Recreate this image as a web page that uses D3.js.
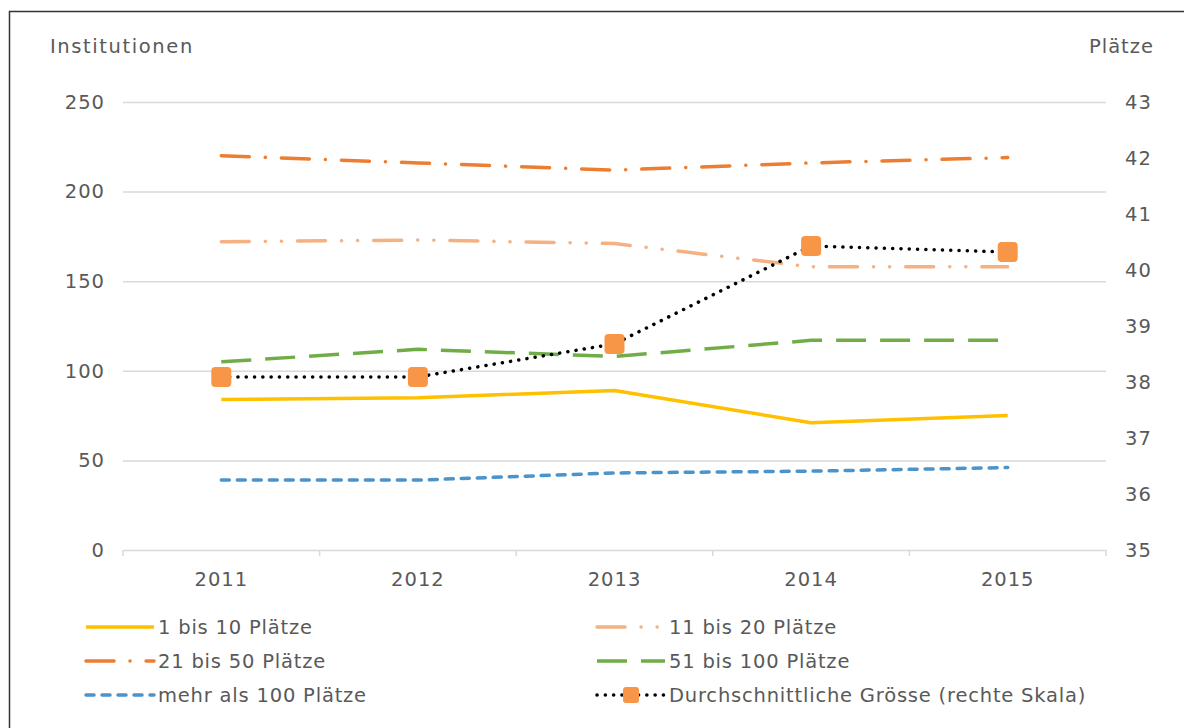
<!DOCTYPE html>
<html>
<head>
<meta charset="utf-8">
<script src="https://cdn.jsdelivr.net/npm/d3@7"></script>
<style>
  body { margin: 0; background: #fff; }
  svg { display: block; font-family: "DejaVu Sans", sans-serif; }
</style>
</head>
<body>
<div id="container"></div>
<script>
const years = ["2011", "2012", "2013", "2014", "2015"]
const leftTicks = [0, 50, 100, 150, 200, 250]
const rightTicks = [35, 36, 37, 38, 39, 40, 41, 42, 43]

const s1bis10 = [84, 85, 89, 71, 75]
const s11bis20 = [172, 173, 171, 158, 158]
const s21bis50 = [220, 216, 212, 216, 219]
const s51bis100 = [105, 112, 108, 117, 117]
const sMehr100 = [39, 39, 43, 44, 46]
const avgSize = [38.09, 38.09, 38.68, 40.43, 40.32]

const series = [
    {name: "1 bis 10 Plätze", values: s1bis10, color: "#FFC000", dash: null, cap: "butt"},
    {name: "11 bis 20 Plätze", values: s11bis20, color: "#F4B183", dash: "28,16,0.1,16,0.1,16", cap: "round"},
    {name: "21 bis 50 Plätze", values: s21bis50, color: "#ED7D31", dash: "28,16,0.1,16", cap: "round"},
    {name: "51 bis 100 Plätze", values: s51bis100, color: "#70AD47", dash: "30,14", cap: "butt"},
    {name: "mehr als 100 Plätze", values: sMehr100, color: "#4A93CB", dash: "8,8", cap: "round"}
]

const width = 1184
const height = 728
const margin = {left: 123, right: 78, top: 102, bottom: 178}

const svg = d3.select("#container").append("svg")
    .attr("width", width)
    .attr("height", height)

// frame
svg.append("path")
    .attr("d", `M9.5,${height + 5} L9.5,11.5 L${width + 5},11.5`)
    .attr("fill", "none")
    .attr("stroke", "#333")
    .attr("stroke-width", 1.5)

const x = d3.scaleBand()
    .domain(years)
    .range([margin.left, width - margin.right])

const y = d3.scaleLinear()
    .domain([0, 250])
    .range([height - margin.bottom, margin.top])

const y2 = d3.scaleLinear()
    .domain([35, 43])
    .range([height - margin.bottom, margin.top])

const textColor = "#595959"
const fontSize = 19.5
const spacing = "1px"

// gridlines
svg.append("g")
    .selectAll("line")
    .data(leftTicks)
    .join("line")
    .attr("x1", margin.left)
    .attr("x2", width - margin.right)
    .attr("y1", d => y(d) + 0.5)
    .attr("y2", d => y(d) + 0.5)
    .attr("stroke", "#d9d9d9")
    .attr("stroke-width", 1.5)

// x tick marks
const xEdges = years.map(d => x(d)).concat([x.range()[1]])
svg.append("g")
    .selectAll("line")
    .data(xEdges)
    .join("line")
    .attr("x1", d => d)
    .attr("x2", d => d)
    .attr("y1", y(0))
    .attr("y2", y(0) + 6)
    .attr("stroke", "#d9d9d9")
    .attr("stroke-width", 1.5)

const txt = sel => sel
    .attr("fill", textColor)
    .attr("font-size", fontSize)
    .attr("letter-spacing", spacing)

// left axis labels
svg.append("g")
    .selectAll("text")
    .data(leftTicks)
    .join("text")
    .attr("x", 105)
    .attr("y", d => y(d))
    .attr("dy", "0.35em")
    .attr("text-anchor", "end")
    .call(txt)
    .text(d => d)

// right axis labels
svg.append("g")
    .selectAll("text")
    .data(rightTicks)
    .join("text")
    .attr("x", 1125)
    .attr("y", d => y2(d))
    .attr("dy", "0.35em")
    .attr("text-anchor", "start")
    .call(txt)
    .text(d => d)

// x labels
svg.append("g")
    .selectAll("text")
    .data(years)
    .join("text")
    .attr("x", d => x(d) + x.bandwidth() / 2)
    .attr("y", 586)
    .attr("text-anchor", "middle")
    .call(txt)
    .text(d => d)

// axis titles
svg.append("text")
    .attr("x", 50)
    .attr("y", 53)
    .call(txt)
    .attr("letter-spacing", "1.6px")
    .text("Institutionen")

svg.append("text")
    .attr("x", 1154)
    .attr("y", 53)
    .attr("text-anchor", "end")
    .call(txt)
    .text("Plätze")

const cx = d => x(d) + x.bandwidth() / 2

const line = d3.line()
    .x((d, i) => cx(years[i]))
    .y(d => y(d))

const line2 = d3.line()
    .x((d, i) => cx(years[i]))
    .y(d => y2(d))

const lines = svg.append("g")

series.forEach(s => {
    lines.append("path")
        .datum(s.values)
        .attr("d", line)
        .attr("fill", "none")
        .attr("stroke", s.color)
        .attr("stroke-width", 3.5)
        .attr("stroke-linecap", s.cap)
        .attr("stroke-linejoin", "round")
        .attr("stroke-dasharray", s.dash)
})

lines.append("path")
    .datum(avgSize)
    .attr("d", line2)
    .attr("fill", "none")
    .attr("stroke", "#000")
    .attr("stroke-width", 3.5)
    .attr("stroke-linecap", "round")
    .attr("stroke-dasharray", "0.1,8.2")

const markerSize = 20
lines.selectAll("rect.marker")
    .data(avgSize)
    .join("rect")
    .attr("class", "marker")
    .attr("x", (d, i) => cx(years[i]) - markerSize / 2)
    .attr("y", d => y2(d) - markerSize / 2)
    .attr("width", markerSize)
    .attr("height", markerSize)
    .attr("rx", 4)
    .attr("fill", "#F79646")

// legend
const legendItems = series.map(s => ({...s, marker: false}))
    .concat([{name: "Durchschnittliche Grösse (rechte Skala)", color: "#000", dash: "0.1,8.2", cap: "round", marker: true}])

const legend = svg.append("g")
const item = legend.selectAll("g")
    .data(legendItems)
    .join("g")
    .attr("transform", (d, i) => `translate(${i % 2 === 0 ? 86 : 597},${627 + Math.floor(i / 2) * 34})`)

item.append("line")
    .attr("x1", 0)
    .attr("x2", 68)
    .attr("y1", 0)
    .attr("y2", 0)
    .attr("stroke", d => d.color)
    .attr("stroke-width", 3.5)
    .attr("stroke-linecap", d => d.cap)
    .attr("stroke-dasharray", d => d.dash)

item.filter(d => d.marker)
    .append("rect")
    .attr("x", 34 - 8)
    .attr("y", -8)
    .attr("width", 16)
    .attr("height", 16)
    .attr("rx", 3)
    .attr("fill", "#F79646")

item.append("text")
    .attr("x", 72)
    .attr("y", 0)
    .attr("dy", "0.35em")
    .call(txt)
    .attr("letter-spacing", "0.8px")
    .text(d => d.name)
</script>
</body>
</html>
